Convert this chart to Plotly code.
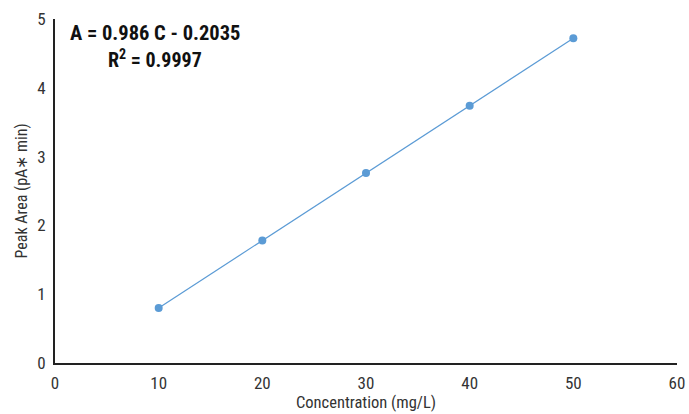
import plotly.graph_objects as go

concentration = [10, 20, 30, 40, 50]
peak_area = [0.80, 1.78, 2.76, 3.74, 4.72]
x_ticks = [0, 10, 20, 30, 40, 50, 60]
y_ticks = [0, 1, 2, 3, 4, 5]

FONT = "Liberation Sans Narrow, Roboto Condensed, Arial Narrow, Roboto, sans-serif"

fig = go.Figure()
fig.add_trace(go.Scatter(
    x=concentration, y=peak_area, mode="lines+markers",
    line=dict(color="#5B9BD5", width=1.2),
    marker=dict(color="#5B9BD5", size=8),
    showlegend=False,
))

fig.add_annotation(
    xref="paper", yref="paper", x=0.160, y=0.96,
    text="<b>A = 0.986 C - 0.2035</b>", showarrow=False,
    font=dict(family=FONT, size=20.5, color="#111111"), xanchor="center", yanchor="middle",
)
fig.add_annotation(
    xref="paper", yref="paper", x=0.160, y=0.885,
    text="<b>R<sup>2</sup> = 0.9997</b>", showarrow=False,
    font=dict(family=FONT, size=20, color="#111111"), xanchor="center", yanchor="middle",
)

fig.update_layout(
    width=689, height=414,
    margin=dict(l=55, r=12, t=19, b=51),
    paper_bgcolor="white", plot_bgcolor="white",
    font=dict(family=FONT, size=16, color="#333333"),
)
fig.update_xaxes(
    range=[0, 60], tickvals=x_ticks, showgrid=False, zeroline=False,
    showline=True, linecolor="#222222", linewidth=2, ticks="",
    ticklabelstandoff=4, automargin=False,
    title=dict(text="Concentration (mg/L)", font=dict(size=16.5, color="#333333"), standoff=2),
    tickfont=dict(size=17, color="#333333"),
)
fig.update_yaxes(
    range=[0, 5], tickvals=y_ticks, showgrid=False, zeroline=False,
    showline=True, linecolor="#222222", linewidth=2, ticks="",
    ticklabelstandoff=4, automargin=False,
    title=dict(text="Peak Area (pA\u2217 min)", font=dict(size=16, color="#333333"), standoff=6),
    tickfont=dict(size=17, color="#333333"),
)

fig.write_html("out.html")
